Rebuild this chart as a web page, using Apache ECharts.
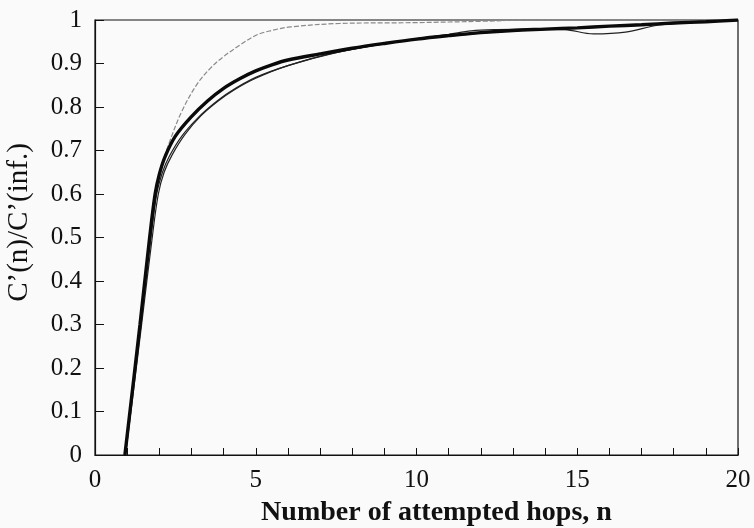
<!DOCTYPE html>
<html>
<head>
<meta charset="utf-8">
<script src="https://cdn.jsdelivr.net/npm/echarts@6/dist/echarts.min.js"></script>
<style>
  html, body { margin: 0; padding: 0; background: #fafafa; }
  #chart { width: 754px; height: 528px; }
</style>
</head>
<body>
<div id="chart"></div>
<script>
// Hop counts (n) and normalised C'(n)/C'(inf.) for each run
const hopsA = [0.93, 1.4, 1.7, 1.87, 2.0, 2.18, 2.5, 3, 3.5, 4, 4.5, 5, 5.5, 6, 7, 8, 9, 10, 11, 12, 13, 14, 15, 16, 17, 18, 19, 20];
const valsA = [0, 0.3, 0.5, 0.6, 0.645, 0.686, 0.733, 0.778, 0.814, 0.843, 0.865, 0.883, 0.897, 0.908, 0.922, 0.935, 0.946, 0.956, 0.964, 0.971, 0.976, 0.979, 0.982, 0.986, 0.989, 0.993, 0.996, 1];

const hopsB = [0.95, 1.45, 1.78, 1.97, 2.15, 2.4, 2.8, 3.3, 3.8, 4.3, 5, 6, 7.5, 9, 10, 11, 12, 13, 14, 15, 16, 17, 18, 19, 20];
const valsB = [0, 0.3, 0.5, 0.6, 0.65, 0.69, 0.737, 0.78, 0.812, 0.838, 0.866, 0.895, 0.925, 0.945, 0.955, 0.963, 0.97, 0.975, 0.978, 0.981, 0.985, 0.988, 0.992, 0.996, 1];

const hopsC = [0.93, 1.42, 1.74, 1.92, 2.1, 2.3, 2.7, 3.2, 3.7, 4.2, 5, 6, 7.3, 9, 10, 11, 11.7, 12.5, 13.5, 14.6, 15.5, 16.5, 17.5, 18.5, 19.5, 20];
const valsC = [0, 0.3, 0.5, 0.6, 0.65, 0.685, 0.733, 0.775, 0.808, 0.835, 0.868, 0.895, 0.922, 0.946, 0.957, 0.967, 0.975, 0.978, 0.979, 0.978, 0.968, 0.972, 0.988, 0.994, 0.998, 1];

const hopsG = [0.93, 1.4, 1.7, 1.9, 2.1, 2.34, 2.7, 3.17, 3.6, 4, 4.5, 5.04, 5.5, 6.07, 7.6, 10, 12, 13.5, 20];
const valsG = [0, 0.3, 0.5, 0.6, 0.67, 0.724, 0.79, 0.852, 0.89, 0.916, 0.942, 0.966, 0.976, 0.984, 0.992, 0.994, 0.997, 1, 1];

const xTicks = [0, 5, 10, 15, 20];
const yTickLabels = ['0', '0.1', '0.2', '0.3', '0.4', '0.5', '0.6', '0.7', '0.8', '0.9', '1'];

const pairs = (xs, ys) => xs.map((x, i) => [x, ys[i]]);
const serif = 'Liberation Serif';

const curve = (xs, ys, lineStyle) => ({
  type: 'line', data: pairs(xs, ys), smooth: 0.35,
  showSymbol: false, lineStyle
});

const chart = echarts.init(document.getElementById('chart'), null, { renderer: 'canvas' });
chart.setOption({
  backgroundColor: '#fafafa',
  animation: false,
  grid: {
    left: 95, right: 16, top: 20, bottom: 73,
    outerBoundsMode: 'none', containLabel: false,
    show: true, borderColor: '#111', borderWidth: 1.2, backgroundColor: 'transparent'
  },
  xAxis: {
    type: 'value', min: xTicks[0], max: xTicks[xTicks.length - 1], interval: 5,
    axisLine: { lineStyle: { color: '#111', width: 1.2 } },
    axisTick: { inside: true, length: 7, lineStyle: { color: '#111' } },
    minorTick: { show: true, splitNumber: 5, length: 7, lineStyle: { color: '#111' } },
    splitLine: { show: false },
    axisLabel: { color: '#111', fontFamily: serif, fontSize: 25, margin: 13 },
    name: 'Number of attempted hops, n',
    nameLocation: 'middle', nameGap: 44,
    nameTextStyle: { color: '#111', fontFamily: serif, fontSize: 28, fontWeight: 'bold', padding: [0, 0, 0, 40] }
  },
  yAxis: {
    type: 'value', min: 0, max: 1, interval: 0.1,
    axisLine: { lineStyle: { color: '#111', width: 1.2 } },
    axisTick: { inside: true, length: 9, lineStyle: { color: '#111' } },
    splitLine: { show: false },
    axisLabel: {
      color: '#111', fontFamily: serif, fontSize: 25, margin: 13,
      formatter: (v) => yTickLabels[Math.round(v * 10)]
    },
    name: 'C\u2019(n)/C\u2019(inf.)',
    nameLocation: 'middle', nameGap: 61, nameRotate: 90,
    nameTextStyle: { color: '#111', fontFamily: serif, fontSize: 29, padding: [0, 0, 0, 30] }
  },
  series: [
    curve(hopsG, valsG, { color: '#8a8a8a', width: 1.2, type: [5, 2] }),
    curve(hopsB, valsB, { color: '#222', width: 1.2 }),
    curve(hopsC, valsC, { color: '#222', width: 1.2 }),
    curve(hopsA, valsA, { color: '#0a0a0a', width: 3.4 })
  ]
});
</script>
</body>
</html>
